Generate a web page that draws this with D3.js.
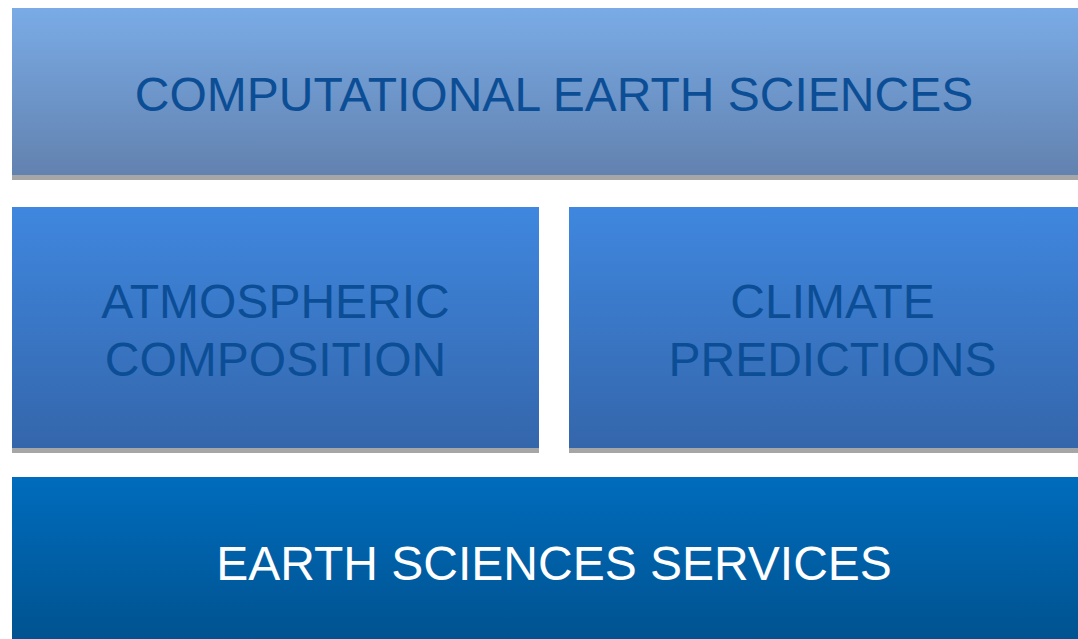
<!DOCTYPE html>
<html>
<head>
<meta charset="utf-8">
<script src="https://cdn.jsdelivr.net/npm/d3@7"></script>
<style>
  html, body { margin: 0; padding: 0; background: #fff; overflow: hidden; }
  svg { display: block; }
</style>
</head>
<body>
<div id="chart"></div>
<script>
// rows of the diagram, top to bottom
var rowNames = ['top', 'middle', 'bottom']
var topLabels = [['COMPUTATIONAL EARTH SCIENCES']]
var middleLabels = [['ATMOSPHERIC', 'COMPOSITION'], ['CLIMATE', 'PREDICTIONS']]
var bottomLabels = [['EARTH SCIENCES SERVICES']]

var width = 1078, height = 639

// box layout
var left = 12, right = 1096   // boxes run off the right edge
var gap = 30                   // gap between the two middle boxes
var rowTop = { top: 8, middle: 207, bottom: 477 }
var rowH = { top: 167, middle: 241, bottom: 167 }
var shadowH = 5
var fontSize = 48, lineH = 58

var styles = {
  top: { c0: '#7aabe6', c1: '#6282af', text: '#0c4e96', shadow: true },
  middle: { c0: '#3f87df', c1: '#3466ab', text: '#0c4e96', shadow: true },
  bottom: { c0: '#006cbd', c1: '#00528e', text: '#ffffff', shadow: false }
}

var rows = { top: topLabels, middle: middleLabels, bottom: bottomLabels }

var svg = d3.select('#chart').append('svg')
  .attr('width', width)
  .attr('height', height)

var defs = svg.append('defs')
rowNames.forEach(r => {
  var g = defs.append('linearGradient')
    .attr('id', 'grad-' + r)
    .attr('x1', 0).attr('y1', 0).attr('x2', 0).attr('y2', 1)
  g.append('stop').attr('offset', '0%').attr('stop-color', styles[r].c0)
  g.append('stop').attr('offset', '100%').attr('stop-color', styles[r].c1)
})

rowNames.forEach(r => {
  var labels = rows[r]
  var x = d3.scaleBand()
    .domain(d3.range(labels.length))
    .range([left, right + gap])
    .paddingInner(0)
  var bw = x.bandwidth() - (labels.length > 1 ? gap : 0)
  if (labels.length === 1) bw = right - left

  var box = svg.selectAll('g.box-' + r)
    .data(labels)
    .enter().append('g')
    .attr('class', 'box-' + r)
    .attr('transform', (d, i) => 'translate(' + x(i) + ',' + rowTop[r] + ')')

  if (styles[r].shadow) {
    box.append('rect')
      .attr('y', rowH[r])
      .attr('width', bw)
      .attr('height', shadowH)
      .attr('fill', '#a6a6a6')
  }

  box.append('rect')
    .attr('width', bw)
    .attr('height', rowH[r])
    .attr('fill', 'url(#grad-' + r + ')')

  box.append('text')
    .attr('text-anchor', 'middle')
    .attr('font-family', '"Liberation Sans", Arial, sans-serif')
    .attr('font-size', fontSize)
    .attr('fill', styles[r].text)
    .each(function (d) {
      var t = d3.select(this)
      var n = d.length
      var capH = fontSize * 0.716
      // baseline of the first line so the block sits centred
      var base0 = rowH[r] / 2 - ((n - 1) * lineH) / 2 + capH / 2 + 2
      d.forEach((line, k) => {
        t.append('tspan')
          .attr('x', bw / 2)
          .attr('y', base0 + k * lineH)
          .text(line)
      })
    })
})
</script>
</body>
</html>
